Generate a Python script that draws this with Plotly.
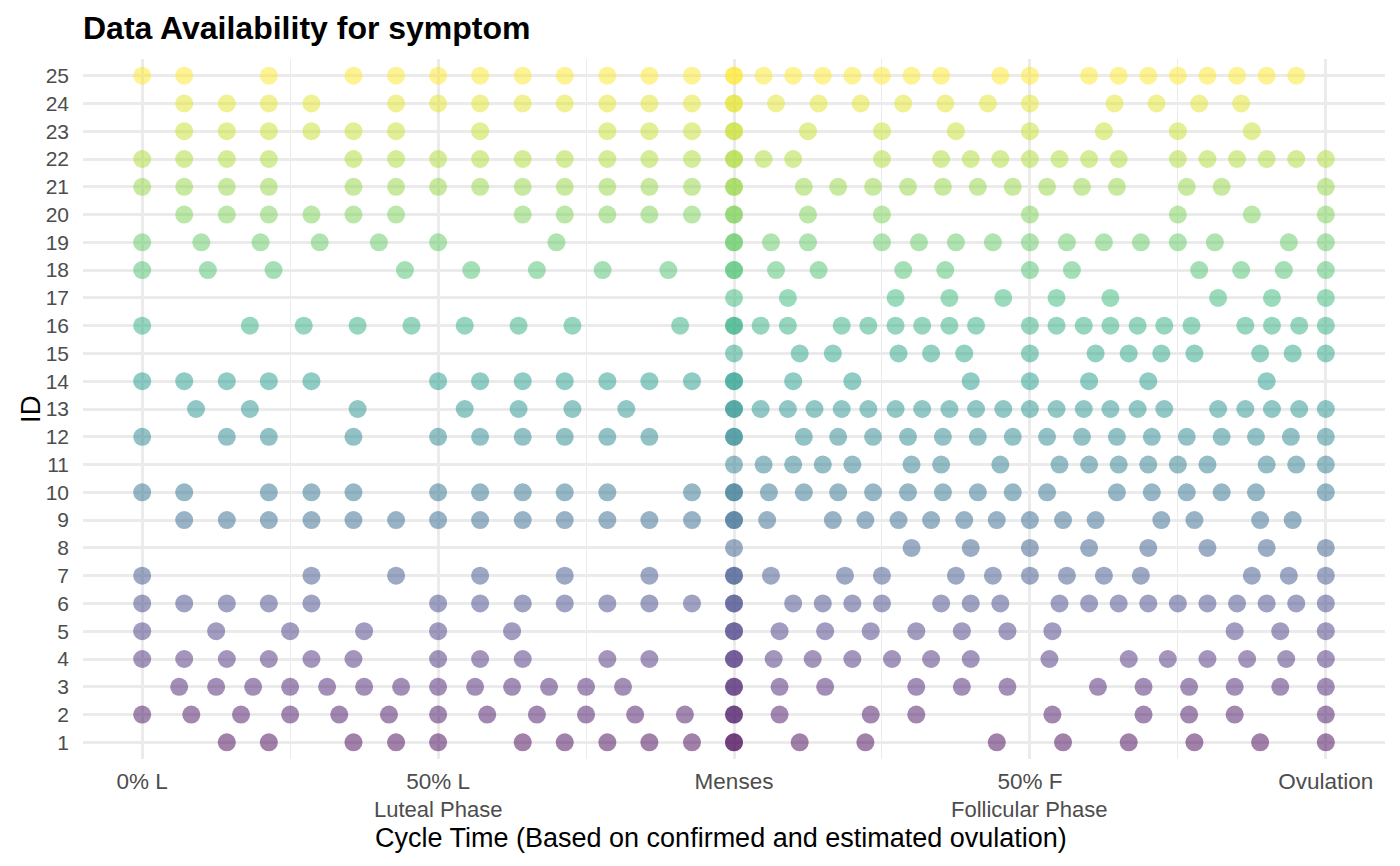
import plotly.graph_objects as go

# ---- data: normalised cycle time (-1 = 0% luteal, 0 = menses, 1 = ovulation) ----
lut_25 = [-1, -0.929, -0.786, -0.643, -0.571, -0.5, -0.429, -0.357, -0.286, -0.214, -0.143, -0.071, 0]
fol_25 = [0, 0.05, 0.1, 0.15, 0.2, 0.25, 0.3, 0.35, 0.45, 0.5, 0.6, 0.65, 0.7, 0.75, 0.8, 0.85, 0.9, 0.95]
lut_24 = [-0.929, -0.857, -0.786, -0.714, -0.571, -0.5, -0.429, -0.357, -0.286, -0.214, -0.143, -0.071, 0]
fol_24 = [0, 0.071, 0.143, 0.214, 0.286, 0.357, 0.429, 0.5, 0.643, 0.714, 0.786, 0.857]
lut_23 = [-0.929, -0.857, -0.786, -0.714, -0.643, -0.571, -0.429, -0.214, -0.143, -0.071, 0]
fol_23 = [0, 0.125, 0.25, 0.375, 0.5, 0.625, 0.75, 0.875]
lut_22 = [-1, -0.929, -0.857, -0.786, -0.643, -0.571, -0.5, -0.429, -0.357, -0.286, -0.214, -0.143, -0.071, 0]
fol_22 = [0, 0.05, 0.1, 0.25, 0.35, 0.4, 0.45, 0.5, 0.55, 0.6, 0.65, 0.75, 0.8, 0.85, 0.9, 0.95, 1]
lut_21 = [-1, -0.929, -0.857, -0.786, -0.643, -0.571, -0.5, -0.429, -0.357, -0.286, -0.214, -0.143, -0.071, 0]
fol_21 = [0, 0.118, 0.176, 0.235, 0.294, 0.353, 0.412, 0.471, 0.529, 0.588, 0.647, 0.765, 0.824, 1]
lut_20 = [-0.929, -0.857, -0.786, -0.714, -0.643, -0.571, -0.357, -0.286, -0.214, -0.143, -0.071, 0]
fol_20 = [0, 0.125, 0.25, 0.5, 0.75, 0.875, 1]
lut_19 = [-1, -0.9, -0.8, -0.7, -0.6, -0.5, -0.3, 0]
fol_19 = [0, 0.0625, 0.125, 0.25, 0.3125, 0.375, 0.4375, 0.5, 0.5625, 0.625, 0.6875, 0.75, 0.8125, 0.9375, 1]
lut_18 = [-1, -0.889, -0.778, -0.556, -0.444, -0.333, -0.222, -0.111, 0]
fol_18 = [0, 0.071, 0.143, 0.286, 0.357, 0.5, 0.571, 0.786, 0.857, 0.929, 1]
lut_17 = []
fol_17 = [0, 0.091, 0.273, 0.364, 0.455, 0.545, 0.636, 0.818, 0.909, 1]
lut_16 = [-1, -0.818, -0.727, -0.636, -0.545, -0.455, -0.364, -0.273, -0.091, 0]
fol_16 = [0, 0.045, 0.091, 0.182, 0.227, 0.273, 0.318, 0.364, 0.409, 0.5, 0.545, 0.591, 0.636, 0.682,
          0.727, 0.773, 0.864, 0.909, 0.955, 1]
lut_15 = []
fol_15 = [0, 0.111, 0.167, 0.278, 0.333, 0.389, 0.5, 0.611, 0.667, 0.722, 0.778, 0.889, 0.944, 1]
lut_14 = [-1, -0.929, -0.857, -0.786, -0.714, -0.5, -0.429, -0.357, -0.286, -0.214, -0.143, -0.071, 0]
fol_14 = [0, 0.1, 0.2, 0.4, 0.5, 0.6, 0.7, 0.9]
lut_13 = [-0.909, -0.818, -0.636, -0.455, -0.364, -0.273, -0.182, 0]
fol_13 = [0, 0.045, 0.091, 0.136, 0.182, 0.227, 0.273, 0.318, 0.364, 0.409, 0.455, 0.5, 0.545, 0.591,
          0.636, 0.682, 0.727, 0.818, 0.864, 0.909, 0.955, 1]
lut_12 = [-1, -0.857, -0.786, -0.643, -0.5, -0.429, -0.357, -0.286, -0.214, -0.143, 0]
fol_12 = [0, 0.118, 0.176, 0.235, 0.294, 0.353, 0.412, 0.471, 0.529, 0.588, 0.647, 0.706, 0.765, 0.824,
          0.882, 0.941, 1]
lut_11 = []
fol_11 = [0, 0.05, 0.1, 0.15, 0.2, 0.3, 0.35, 0.45, 0.55, 0.6, 0.65, 0.7, 0.75, 0.8, 0.9, 0.95, 1]
lut_10 = [-1, -0.929, -0.786, -0.714, -0.643, -0.5, -0.429, -0.357, -0.286, -0.214, -0.071, 0]
fol_10 = [0, 0.059, 0.118, 0.176, 0.235, 0.294, 0.353, 0.412, 0.471, 0.529, 0.647, 0.706, 0.765, 0.824, 0.882, 1]
lut_09 = [-0.929, -0.857, -0.786, -0.714, -0.643, -0.571, -0.5, -0.429, -0.357, -0.286, -0.214, -0.143, -0.071, 0]
fol_09 = [0, 0.056, 0.167, 0.222, 0.278, 0.333, 0.389, 0.444, 0.5, 0.556, 0.611, 0.722, 0.778, 0.889, 0.944]
lut_08 = []
fol_08 = [0, 0.3, 0.4, 0.5, 0.6, 0.7, 0.8, 0.9, 1]
lut_07 = [-1, -0.714, -0.571, -0.429, -0.286, -0.143, 0]
fol_07 = [0, 0.0625, 0.1875, 0.25, 0.375, 0.4375, 0.5, 0.5625, 0.625, 0.6875, 0.875, 0.9375, 1]
lut_06 = [-1, -0.929, -0.857, -0.786, -0.714, -0.5, -0.429, -0.357, -0.286, -0.214, -0.143, -0.071, 0]
fol_06 = [0, 0.1, 0.15, 0.2, 0.25, 0.35, 0.4, 0.45, 0.55, 0.6, 0.65, 0.7, 0.75, 0.8, 0.85, 0.9, 0.95, 1]
lut_05 = [-1, -0.875, -0.75, -0.625, -0.5, -0.375, 0]
fol_05 = [0, 0.077, 0.154, 0.231, 0.308, 0.385, 0.462, 0.538, 0.846, 0.923, 1]
lut_04 = [-1, -0.929, -0.857, -0.786, -0.714, -0.643, -0.5, -0.429, -0.357, -0.214, -0.143, 0]
fol_04 = [0, 0.067, 0.133, 0.2, 0.267, 0.333, 0.4, 0.533, 0.667, 0.733, 0.8, 0.867, 0.933, 1]
lut_03 = [-0.9375, -0.875, -0.8125, -0.75, -0.6875, -0.625, -0.5625, -0.5, -0.4375, -0.375, -0.3125,
          -0.25, -0.1875, 0]
fol_03 = [0, 0.077, 0.154, 0.308, 0.385, 0.462, 0.615, 0.692, 0.769, 0.846, 0.923, 1]
lut_02 = [-1, -0.917, -0.833, -0.75, -0.667, -0.583, -0.5, -0.417, -0.333, -0.25, -0.167, -0.083, 0]
fol_02 = [0, 0.077, 0.231, 0.308, 0.538, 0.692, 0.769, 0.846, 1]
lut_01 = [-0.857, -0.786, -0.643, -0.571, -0.5, -0.357, -0.286, -0.214, -0.143, -0.071, 0]
fol_01 = [0, 0.111, 0.222, 0.444, 0.556, 0.667, 0.778, 0.889, 1]

ids = list(range(1, 26))
x_tick_vals = [-1, -0.5, 0, 0.5, 1]
x_tick_text = ["0% L", "50% L", "Menses", "50% F", "Ovulation"]
x_minor_vals = [-0.75, -0.25, 0.25, 0.75]
phase_labels = ["Luteal Phase", "Follicular Phase"]
phase_label_pos = [-0.5, 0.5]

luteal = [lut_01, lut_02, lut_03, lut_04, lut_05, lut_06, lut_07, lut_08, lut_09, lut_10, lut_11, lut_12,
          lut_13, lut_14, lut_15, lut_16, lut_17, lut_18, lut_19, lut_20, lut_21, lut_22, lut_23, lut_24, lut_25]
follicular = [fol_01, fol_02, fol_03, fol_04, fol_05, fol_06, fol_07, fol_08, fol_09, fol_10, fol_11, fol_12,
              fol_13, fol_14, fol_15, fol_16, fol_17, fol_18, fol_19, fol_20, fol_21, fol_22, fol_23, fol_24, fol_25]

xs, ys = [], []
for pid, lut, fol in zip(ids, luteal, follicular):
    for v in lut + fol:
        xs.append(v)
        ys.append(pid)

FONT = "Liberation Sans, Arial, sans-serif"
GRID = "#EBEBEB"
TICK_COL = "#4D4D4D"

fig = go.Figure()
fig.add_trace(go.Scatter(
    x=xs, y=ys, mode="markers",
    marker=dict(size=18, color=ys, colorscale="Viridis", cmin=1, cmax=25,
                opacity=0.5, line=dict(width=0)),
    showlegend=False, hoverinfo="x+y",
))

# the page body adds an 8px offset, so the figure is sized/margined to compensate
fig.update_layout(
    width=1384, height=850,
    margin=dict(l=75, r=7, t=51, b=99, autoexpand=False),
    paper_bgcolor="white", plot_bgcolor="white",
    font=dict(family=FONT, color=TICK_COL, size=21),
    showlegend=False,
)
fig.update_xaxes(
    range=[-1.1, 1.1], tickvals=x_tick_vals, ticktext=x_tick_text,
    showgrid=True, gridcolor=GRID, gridwidth=2.7, zeroline=False, showline=False,
    ticks="", ticklabelstandoff=6, tickfont=dict(size=22.5, color=TICK_COL),
    minor=dict(tickvals=x_minor_vals, showgrid=True, gridcolor=GRID, gridwidth=1.4, ticks=""),
    automargin=False,
)
fig.update_yaxes(
    range=[0.4, 25.6], tickvals=ids, ticktext=[str(i) for i in ids],
    showgrid=True, gridcolor=GRID, gridwidth=2.7, zeroline=False, showline=False,
    ticks="", ticklabelstandoff=13, tickfont=dict(size=21, color=TICK_COL),
    automargin=False,
)

PLOT_BOTTOM = 759
PLOT_H = 700


def py(pixel_y):
    return (PLOT_BOTTOM - pixel_y) / PLOT_H


for lab, pos in zip(phase_labels, phase_label_pos):
    fig.add_annotation(x=pos, xref="x", y=py(809), yref="paper", text=lab, showarrow=False,
                       xanchor="center", yanchor="middle",
                       font=dict(family=FONT, size=22, color=TICK_COL))

fig.add_annotation(x=(721 - 83) / 1302, xref="paper", y=py(838), yref="paper",
                   text="Cycle Time (Based on confirmed and estimated ovulation)", showarrow=False,
                   xanchor="center", yanchor="middle", font=dict(family=FONT, size=27, color="black"))
fig.add_annotation(x=-(83 - 30) / 1302, xref="paper", y=0.5, yref="paper", text="ID", textangle=-90,
                   showarrow=False, xanchor="center", yanchor="middle",
                   font=dict(family=FONT, size=27.5, color="black"))
fig.add_annotation(x=0, xref="paper", y=py(28), yref="paper", text="<b>Data Availability for symptom</b>",
                   showarrow=False, xanchor="left", yanchor="middle", xshift=-2,
                   font=dict(family=FONT, size=32, color="black"))

fig.write_html("out.html")
